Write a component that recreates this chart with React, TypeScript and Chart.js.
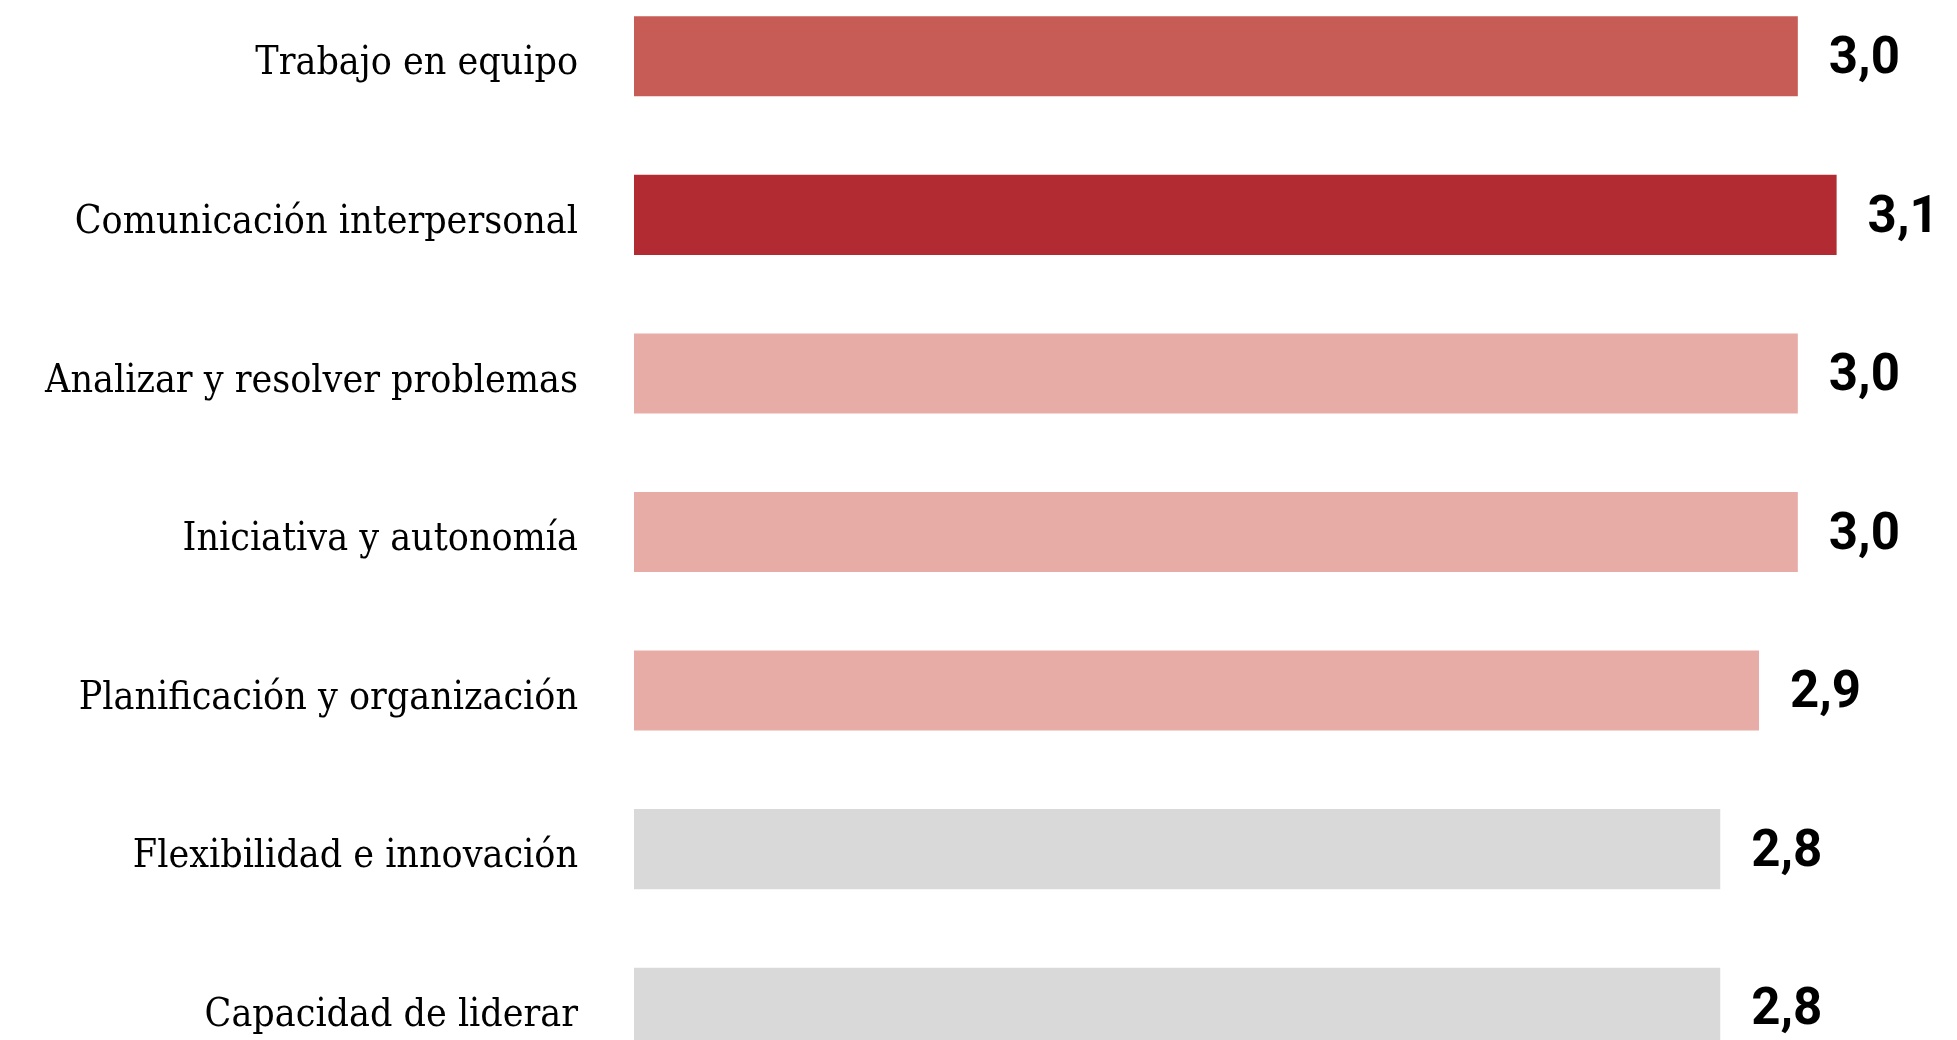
import React, { useEffect, useRef } from "react";
import { Chart, registerables } from "chart.js";

Chart.register(...registerables);

const categories = [
  "Trabajo en equipo",
  "Comunicación interpersonal",
  "Analizar y resolver problemas",
  "Iniciativa y autonomía",
  "Planificación y organización",
  "Flexibilidad e innovación",
  "Capacidad de liderar",
];
const values = [3.0, 3.1, 3.0, 3.0, 2.9, 2.8, 2.8];
const valueLabels = ["3,0", "3,1", "3,0", "3,0", "2,9", "2,8", "2,8"];
const barColors = [
  "#C75B55",
  "#B22A32",
  "#E8ACA6",
  "#E8ACA6",
  "#E8ACA6",
  "#D9D9D9",
  "#D9D9D9",
];

const valueLabelPlugin = {
  id: "valueLabels",
  afterDatasetsDraw(chart: any) {
    const ctx = chart.ctx;
    const meta = chart.getDatasetMeta(0);
    ctx.save();
    ctx.font = "bold 51px Roboto, 'Noto Sans', sans-serif";
    ctx.fillStyle = "#000000";
    ctx.textAlign = "left";
    ctx.textBaseline = "middle";
    meta.data.forEach((bar: any, i: number) => {
      ctx.fillText(valueLabels[i], bar.x + 31, bar.y + 4);
    });
    ctx.restore();
  },
};

export default function App() {
  const canvasRef = useRef<HTMLCanvasElement | null>(null);

  useEffect(() => {
    if (!canvasRef.current) return;
    const chart = new Chart(canvasRef.current, {
      type: "bar",
      data: {
        labels: categories,
        datasets: [
          {
            data: values,
            backgroundColor: barColors,
            borderWidth: 0,
            barPercentage: 0.505,
            categoryPercentage: 1,
          },
        ],
      },
      options: {
        indexAxis: "y",
        animation: false,
        responsive: true,
        maintainAspectRatio: false,
        layout: { padding: { left: 0, right: 4, top: 0, bottom: 0 } },
        plugins: {
          legend: { display: false },
          tooltip: { enabled: false },
        },
        scales: {
          x: {
            display: false,
            min: 0,
            max: 3.4,
          },
          y: {
            grid: { display: false },
            border: { display: false },
            afterFit: (scale: any) => {
              scale.width = 634;
              scale.paddingTop = 0;
              scale.paddingBottom = 0;
            },
            ticks: {
              padding: 48,
              labelOffset: 8,
              color: "#000000",
              font: {
                family: "'DejaVu Serif Condensed', 'DejaVu Serif', serif",
                size: 39,
              },
            },
          },
        },
      },
      plugins: [valueLabelPlugin],
    });
    return () => chart.destroy();
  }, []);

  return (
    <div
      style={{
        position: "fixed",
        left: 0,
        top: 0,
        width: 1957,
        height: 1040,
        overflow: "hidden",
        background: "#ffffff",
      }}
    >
      <div style={{ position: "absolute", left: 0, top: -23, width: 1957, height: 1110 }}>
        <canvas ref={canvasRef} />
      </div>
    </div>
  );
}
